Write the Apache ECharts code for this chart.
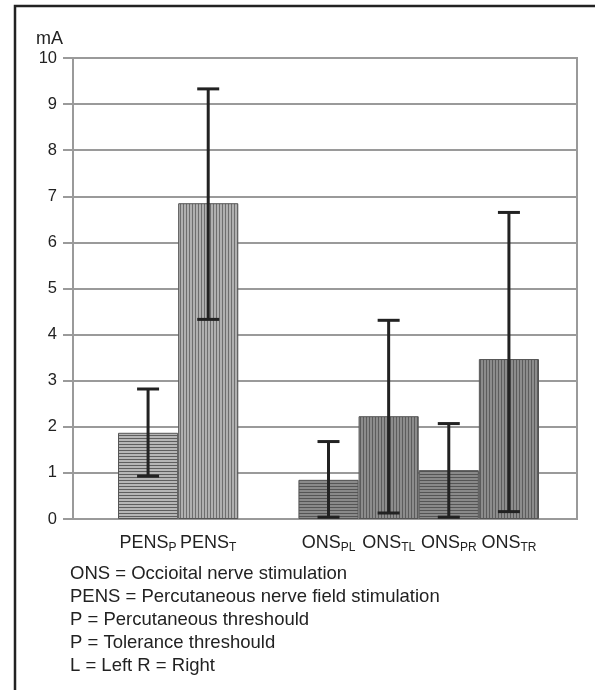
<!DOCTYPE html>
<html>
<head>
<meta charset="utf-8">
<script src="https://cdn.jsdelivr.net/npm/echarts@6/dist/echarts.min.js"></script>
<style>
  html, body { margin: 0; padding: 0; background: #fff; }
  #chart { width: 595px; height: 690px; }
</style>
</head>
<body>
<div id="chart"></div>
<script>
// categories: name_sub, '' is the empty slot between the two groups
const categories = ['PENS_P', 'PENS_T', '', 'ONS_PL', 'ONS_TL', 'ONS_PR', 'ONS_TR']
const means = [1.87, 6.85, '-', 0.85, 2.23, 1.06, 3.47]
const errLow = [0.93, 4.33, '-', 0.04, 0.13, 0.04, 0.16]
const errHigh = [2.82, 9.33, '-', 1.68, 4.31, 2.07, 6.65]
const yTicks = [0, 10, 1]
const notes = [
  'ONS = Occioital nerve stimulation',
  'PENS = Percutaneous nerve field stimulation',
  'P = Percutaneous threshould',
  'P = Tolerance threshould',
  'L = Left R = Right'
]

// hatch fills like the original print
const hatch = (vertical, bg, line) => {
  const c = document.createElement('canvas')
  c.width = 3
  c.height = 3
  const ctx = c.getContext('2d')
  ctx.fillStyle = bg
  ctx.fillRect(0, 0, 3, 3)
  ctx.fillStyle = line
  if (vertical) ctx.fillRect(0, 0, 1, 3)
  else ctx.fillRect(0, 0, 3, 1)
  return { image: c, repeat: 'repeat' }
}
const fills = [
  hatch(false, '#b6b6b6', '#5e5e5e'),
  hatch(true, '#b0b0b0', '#6e6e6e'),
  null,
  hatch(false, '#8a8a8a', '#555555'),
  hatch(true, '#8c8c8c', '#5c5c5c'),
  hatch(false, '#8a8a8a', '#555555'),
  hatch(true, '#8c8c8c', '#5c5c5c')
]

const font = '"Liberation Sans", Arial, sans-serif'
const chart = echarts.init(document.getElementById('chart'))

const option = {
  animation: false,
  grid: [
    { left: 73, right: 18, top: 58, bottom: 171, show: true, borderColor: '#9a9a9a', borderWidth: 2 },
    { left: 118, right: 56, top: 58, bottom: 171 }
  ],
  xAxis: [
    { gridIndex: 0, type: 'value', show: false, min: 0, max: 1 },
    {
      gridIndex: 1,
      type: 'category',
      data: categories,
      axisLine: { show: false },
      axisTick: { show: false },
      axisLabel: {
        interval: 0,
        hideOverlap: false,
        margin: 14,
        formatter: (v) => {
          if (!v) return ''
          const [m, s] = v.split('_')
          return '{m|' + m + '}{s|' + s + '}'
        },
        rich: {
          m: { fontFamily: font, fontSize: 18, color: '#222', lineHeight: 21 },
          s: { fontFamily: font, fontSize: 12, color: '#222', lineHeight: 12, verticalAlign: 'bottom' }
        }
      }
    }
  ],
  yAxis: [
    {
      gridIndex: 0,
      type: 'value',
      min: yTicks[0],
      max: yTicks[1],
      interval: yTicks[2],
      axisLine: { show: true, lineStyle: { color: '#9a9a9a', width: 2 } },
      axisTick: { show: true, length: 10, lineStyle: { color: '#9a9a9a', width: 2 } },
      axisLabel: { margin: 16, fontFamily: font, fontSize: 16.5, color: '#222' },
      splitLine: { show: true, lineStyle: { color: '#9a9a9a', width: 2 } }
    },
    { gridIndex: 1, type: 'value', min: yTicks[0], max: yTicks[1], show: false }
  ],
  series: [
    {
      type: 'bar',
      xAxisIndex: 1,
      yAxisIndex: 1,
      barWidth: '100%',
      data: means.map((v, i) => ({
        value: v,
        itemStyle: { color: fills[i] || '#888', borderColor: '#555', borderWidth: 1 }
      }))
    },
    {
      type: 'custom',
      xAxisIndex: 1,
      yAxisIndex: 1,
      data: categories.map((c, i) => [i, errLow[i], errHigh[i]]).filter((d) => d[1] !== '-'),
      renderItem: (params, api) => {
        const lo = api.coord([api.value(0), api.value(1)])
        const hi = api.coord([api.value(0), api.value(2)])
        const x = lo[0]
        const half = 11
        const style = { stroke: '#222', lineWidth: 3 }
        return {
          type: 'group',
          children: [
            { type: 'line', shape: { x1: x, y1: lo[1], x2: x, y2: hi[1] }, style },
            { type: 'line', shape: { x1: x - half, y1: hi[1], x2: x + half, y2: hi[1] }, style },
            { type: 'line', shape: { x1: x - half, y1: lo[1], x2: x + half, y2: lo[1] }, style }
          ]
        }
      },
      z: 5
    }
  ],
  graphic: [
    {
      type: 'rect',
      shape: { x: 15, y: 6, width: 620, height: 720 },
      style: { fill: 'none', stroke: '#222', lineWidth: 2.5 }
    },
    {
      type: 'text',
      x: 36,
      y: 39,
      style: { text: 'mA', fontFamily: font, fontSize: 18, fill: '#222', verticalAlign: 'middle' }
    },
    ...notes.map((t, i) => ({
      type: 'text',
      x: 70,
      y: 574 + i * 23,
      style: { text: t, fontFamily: font, fontSize: 18.5, fill: '#222', verticalAlign: 'middle' }
    }))
  ]
}

chart.setOption(option)
</script>
</body>
</html>
